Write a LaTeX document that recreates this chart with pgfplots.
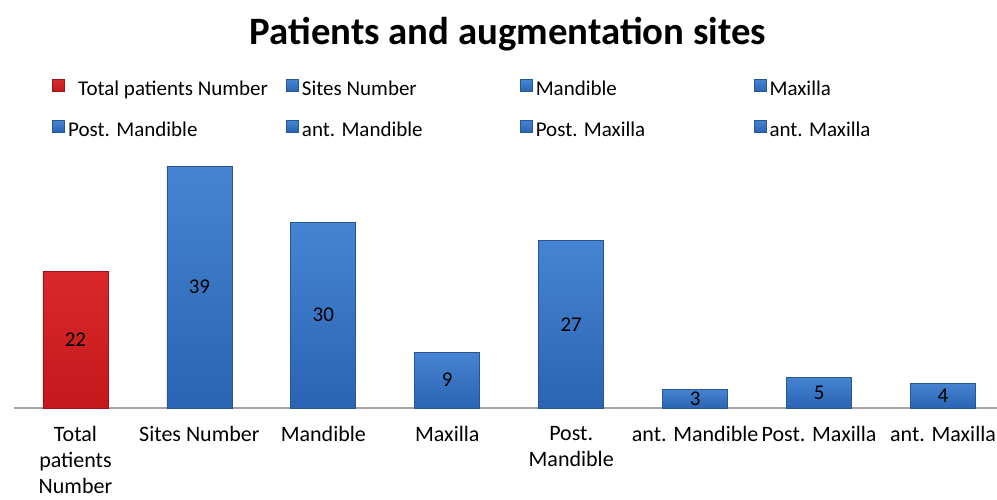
\documentclass[border=0pt]{standalone}
\usepackage{fontspec}
\setmainfont{Carlito}
\usepackage{pgfplots}
\pgfplotsset{compat=1.18}
\definecolor{barblue}{RGB}{55,116,195}
\definecolor{barbluetop}{RGB}{70,132,210}
\definecolor{barbluebot}{RGB}{42,100,178}
\definecolor{barblueedge}{RGB}{38,86,150}
\definecolor{barred}{RGB}{206,30,34}
\definecolor{barredtop}{RGB}{218,40,44}
\definecolor{barredbot}{RGB}{196,24,28}
\definecolor{barrededge}{RGB}{150,20,22}
\definecolor{axisgray}{RGB}{165,165,165}
\pgfplotsset{sq legend/.style={legend image code/.code={\fill[##1] (0pt,-0.5pt) rectangle (6pt,5.5pt);}}}
\begin{document}
\begin{tikzpicture}[x=1pt,y=1pt]
\useasboundingbox (0,0) rectangle (498.5,249.5);
\node[font=\fontsize{19.4}{23}\selectfont\bfseries] at (254,232.5) {Patients and augmentation sites};
\begin{axis}[
  at={(6.75pt,45.5pt)}, anchor=south west,
  scale only axis, width=495.75pt, height=124pt,
  xmin=-0.5, xmax=7.5, ymin=0, ymax=40,
  hide y axis,
  axis x line*=bottom,
  x axis line style={draw=axisgray, line width=1pt, -},
  xtick={0,...,7},
  xticklabels={{Total\\patients\\Number}, Sites Number, Mandible, Maxilla, {Post.\\Mandible}, ant. Mandible, Post. Maxilla, ant. Maxilla},
  xticklabel style={align=center, font=\fontsize{11}{13}\selectfont, inner sep=0pt, yshift=-9pt},
  major tick length=0pt,
  ybar, bar width=32.5pt, bar shift=0pt,
  /pgf/number format/assume math mode=true,
  nodes near coords,
  visualization depends on={rawy \as \rawy},
  every node near coord/.append style={anchor=center, text=black, font=\fontsize{10.5}{12}\selectfont, shift={(axis direction cs:0,-\rawy/2)}},
  legend columns=4,
  legend style={at={(axis description cs:0.0388,1.3266)}, anchor=north west, draw=none, fill=none, inner sep=0pt, column sep=0pt, row sep=10pt, font=\fontsize{10.5}{12}\selectfont, nodes={inner sep=0pt, text height=7pt, text depth=2pt},
     /tikz/every odd column/.append style={column sep=1.5pt}},
  blue bar/.style={fill=barblue, top color=barbluetop, bottom color=barbluebot, draw=barblueedge, sq legend},
]
\addplot[fill=barred, top color=barredtop, bottom color=barredbot, draw=barrededge, sq legend] coordinates {(0,22)};
\addlegendentry{\makebox[109pt][l]{\hspace*{5pt}Total patients Number}}
\addplot[blue bar] coordinates {(1,39)};
\addlegendentry{\makebox[109pt][l]{Sites Number}}
\addplot[blue bar] coordinates {(2,30)};
\addlegendentry{\makebox[109pt][l]{Mandible}}
\addplot[blue bar] coordinates {(3,9)};
\addlegendentry{\makebox[109pt][l]{Maxilla}}
\addplot[blue bar] coordinates {(4,27)};
\addlegendentry{\makebox[109pt][l]{Post. Mandible}}
\addplot[blue bar] coordinates {(5,3)};
\addlegendentry{\makebox[109pt][l]{ant. Mandible}}
\addplot[blue bar] coordinates {(6,5)};
\addlegendentry{\makebox[109pt][l]{Post. Maxilla}}
\addplot[blue bar] coordinates {(7,4)};
\addlegendentry{\makebox[109pt][l]{ant. Maxilla}}
\end{axis}
\end{tikzpicture}
\end{document}
